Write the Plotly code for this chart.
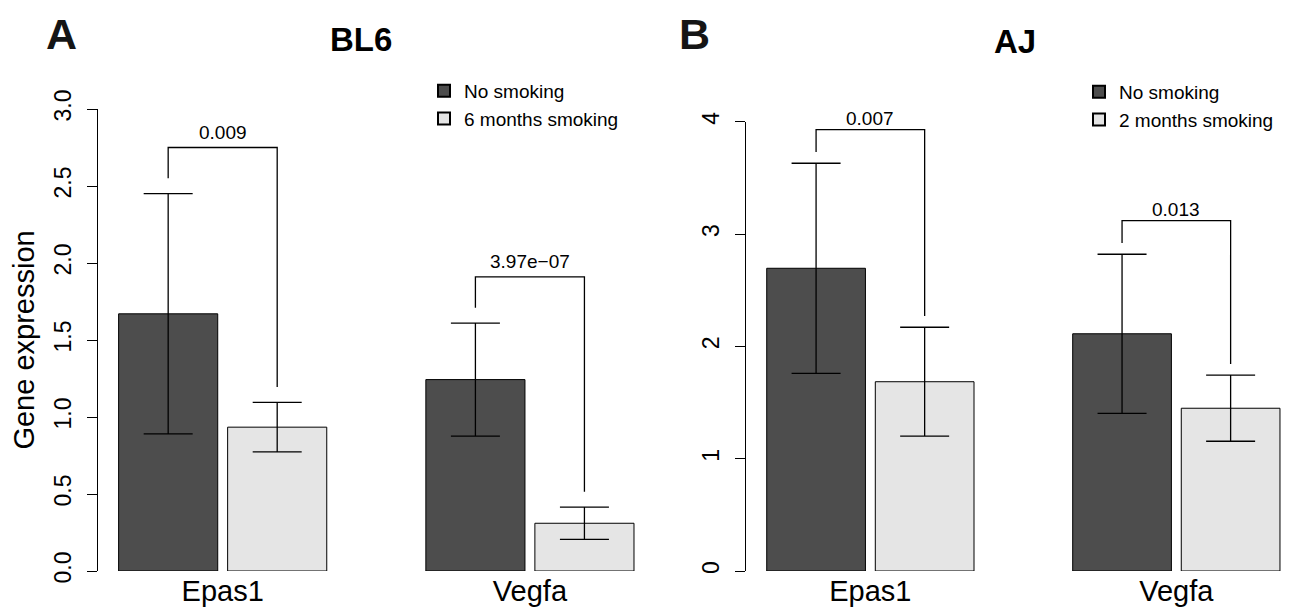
import plotly.graph_objects as go

# ---------------- data ----------------
genes = ["Epas1", "Vegfa"]

# Panel A (BL6)
bl6_no_mean = [1.67, 1.243]
bl6_no_sd = [0.78, 0.367]
bl6_smk_mean = [0.934, 0.31]
bl6_smk_sd = [0.161, 0.105]
bl6_pvals = ["0.009", "3.97e\u221207"]
bl6_labels = ["No smoking", "6 months smoking"]

# Panel B (AJ)
aj_no_mean = [2.695, 2.112]
aj_no_sd = [0.935, 0.708]
aj_smk_mean = [1.685, 1.449]
aj_smk_sd = [0.485, 0.294]
aj_pvals = ["0.007", "0.013"]
aj_labels = ["No smoking", "2 months smoking"]

yticks_A = [0, 0.5, 1.0, 1.5, 2.0, 2.5, 3.0]
yticks_B = [0, 1, 2, 3, 4]

# ---------------- styling ----------------
OFF = 8                      # page body margin
W, H = 1292 - OFF, 613 - OFF
DARK = "#4d4d4d"
LIGHT = "#e5e5e5"
FONT = "Liberation Sans, Arial, Helvetica, sans-serif"

# bar layout (R barplot, space = c(0.1, 1))
dark_x = [1.5 + i * 3.1 for i in range(len(genes))]
light_x = [x + 1.1 for x in dark_x]
group_x = [(a + b) / 2 for a, b in zip(dark_x, light_x)]


def px_x(p):
    return (p - OFF) / W


def px_y(p):
    return 1 - (p - OFF) / H


# panel geometry (screen px)
A_left, A_right = 98.0, 654.6
A_bottom, A_top = 571.0, 109.0
B_left = 746.2
B_bottom, B_top = 571.0, 121.7
bw_B = 98.7
xB_right = 0.792 + (1292 - B_left) / bw_B
ppu_A = (A_bottom - A_top) / 3.0
ppu_B = (B_bottom - B_top) / 4.0

fig = go.Figure()
annotations = []


def add_panel(xref, yref, no_mean, no_sd, smk_mean, smk_sd, pvals, labels,
              legend, ppu):
    fig.add_trace(go.Bar(
        x=dark_x, y=no_mean, width=1.0, name=labels[0],
        marker=dict(color=DARK, line=dict(color="black", width=1)),
        error_y=dict(type="data", array=no_sd, visible=True, color="black",
                     thickness=1.3, width=24.5),
        xaxis=xref, yaxis=yref, legend=legend,
    ))
    fig.add_trace(go.Bar(
        x=light_x, y=smk_mean, width=1.0, name=labels[1],
        marker=dict(color=LIGHT, line=dict(color="black", width=1)),
        error_y=dict(type="data", array=smk_sd, visible=True, color="black",
                     thickness=1.3, width=24.5),
        xaxis=xref, yaxis=yref, legend=legend,
    ))
    # significance brackets
    for i in range(len(genes)):
        top_d = no_mean[i] + no_sd[i]
        top_l = smk_mean[i] + smk_sd[i]
        m = max(top_d, top_l)
        fig.add_trace(go.Scatter(
            x=[dark_x[i], dark_x[i], light_x[i], light_x[i]],
            y=[top_d + 0.1, m + 0.3, m + 0.3, top_l + 0.1],
            mode="lines", line=dict(color="black", width=1.3),
            showlegend=False, hoverinfo="skip", xaxis=xref, yaxis=yref,
            cliponaxis=False,
        ))
        annotations.append(dict(
            x=group_x[i], y=m + 0.3, xref=xref, yref=yref, text=pvals[i],
            showarrow=False, xanchor="center", yanchor="middle",
            yshift=0.1 * ppu,
            font=dict(size=19, color="black", family=FONT),
        ))


add_panel("x", "y", bl6_no_mean, bl6_no_sd, bl6_smk_mean, bl6_smk_sd,
          bl6_pvals, bl6_labels, "legend", ppu_A)
add_panel("x2", "y2", aj_no_mean, aj_no_sd, aj_smk_mean, aj_smk_sd,
          aj_pvals, aj_labels, "legend2", ppu_B)

xcommon = dict(showgrid=False, zeroline=False, showline=False, ticks="",
               tickvals=group_x, ticktext=genes, automargin=False,
               tickfont=dict(size=29, color="black", family=FONT))
ycommon = dict(showgrid=False, zeroline=False, showline=True, linecolor="black",
               linewidth=1.3, ticks="outside", ticklen=10, tickwidth=1.3,
               tickcolor="black", tickangle=-90, automargin=False,
               ticklabelstandoff=7,
               tickfont=dict(size=23, color="black", family=FONT))

# panel letters: anchored at the top edge so they stay inside the page
for txt, x in [("A", 61), ("B", 694)]:
    annotations.append(dict(
        text=f"<b>{txt}</b>", x=px_x(x), y=1.0, xref="paper", yref="paper",
        xanchor="center", yanchor="top", showarrow=False,
        font=dict(size=43, family=FONT, color="#151515")))
for txt, x, y in [("BL6", 361, 40), ("AJ", 1015, 42)]:
    annotations.append(dict(
        text=f"<b>{txt}</b>", x=px_x(x), y=px_y(y), xref="paper", yref="paper",
        xanchor="center", yanchor="middle", showarrow=False,
        font=dict(size=33, family=FONT, color="black")))

fig.update_layout(
    width=W, height=H,
    margin=dict(l=0, r=0, t=0, b=0, autoexpand=False),
    paper_bgcolor="white", plot_bgcolor="white",
    font=dict(family=FONT, color="black"),
    barmode="overlay",
    xaxis=dict(domain=[px_x(A_left), px_x(A_right)], range=[0.792, 6.408],
               anchor="y", **xcommon),
    yaxis=dict(domain=[px_y(A_bottom), px_y(A_top)], range=[0, 3],
               tickvals=yticks_A, ticktext=[f"{v:.1f}" for v in yticks_A],
               anchor="x",
               title=dict(text="Gene expression", standoff=12,
                          font=dict(size=29, color="black", family=FONT)),
               **ycommon),
    xaxis2=dict(domain=[px_x(B_left), 1.0], range=[0.792, xB_right],
                anchor="y2", **xcommon),
    yaxis2=dict(domain=[px_y(B_bottom), px_y(B_top)], range=[0, 4],
                tickvals=yticks_B, ticktext=[str(v) for v in yticks_B],
                anchor="x2", **ycommon),
    legend=dict(x=px_x(424), y=px_y(72), xanchor="left", yanchor="top",
                bgcolor="rgba(0,0,0,0)", font=dict(size=19, family=FONT),
                tracegroupgap=0, itemsizing="constant"),
    legend2=dict(x=px_x(1079), y=px_y(73), xanchor="left", yanchor="top",
                 bgcolor="rgba(0,0,0,0)", font=dict(size=19, family=FONT),
                 tracegroupgap=0, itemsizing="constant"),
    annotations=annotations,
)

fig.write_html("out.html")
